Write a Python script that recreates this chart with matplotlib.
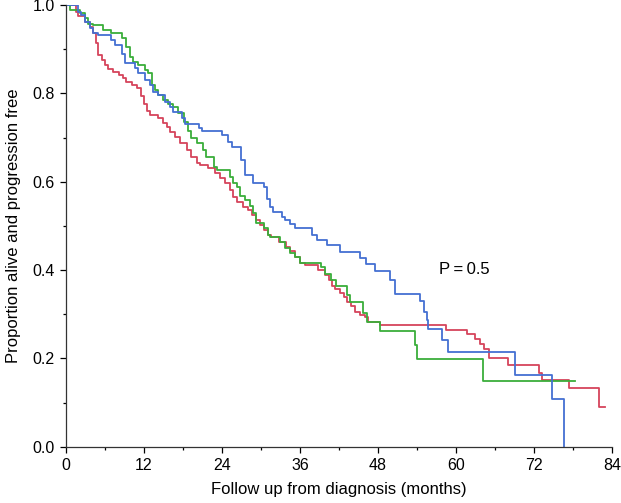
import matplotlib
matplotlib.use("Agg")
import matplotlib.pyplot as plt
from matplotlib.ticker import MultipleLocator

plt.rcParams['font.family'] = ['Liberation Sans', 'DejaVu Sans']

# step curves: time (months) of each drop and the value after it; last point = end of follow-up
red_t = [0, 1.5, 1.9, 2.9, 3.7, 4.2, 4.7, 5.0, 5.5, 6.0, 6.5, 7.3, 8.1, 8.8, 9.3, 10.1, 10.9,
         11.5, 12.0, 12.5, 13.0, 14.2, 15.0, 15.6, 16.0, 16.8, 17.5, 18.6, 19.3, 20.1, 20.6,
         21.9, 22.9, 23.7, 24.5, 25.2, 25.7, 26.3, 27.3, 28.0, 28.6, 29.3, 29.9, 30.4, 31.1,
         31.6, 32.7, 33.9, 34.5, 35.2, 36.0, 36.8, 38.8, 39.8, 40.4, 40.9, 41.4, 42.2, 42.7,
         43.2, 43.9, 44.5, 45.2, 46.0, 46.5, 48.3, 58.4, 61.6, 62.9, 63.7, 64.3, 65.0, 68.0,
         72.7, 73.2, 77.3, 81.9, 82.9]
red_s = [1.0, 0.985, 0.975, 0.962, 0.951, 0.936, 0.913, 0.887, 0.875, 0.864, 0.856, 0.849,
         0.841, 0.834, 0.826, 0.819, 0.811, 0.795, 0.775, 0.760, 0.752, 0.745, 0.733, 0.724,
         0.713, 0.702, 0.687, 0.672, 0.657, 0.642, 0.638, 0.630, 0.619, 0.608, 0.596, 0.581,
         0.566, 0.554, 0.542, 0.536, 0.524, 0.513, 0.502, 0.491, 0.479, 0.474, 0.464, 0.453,
         0.442, 0.430, 0.416, 0.411, 0.400, 0.389, 0.377, 0.364, 0.356, 0.348, 0.339, 0.328,
         0.318, 0.305, 0.299, 0.294, 0.283, 0.275, 0.265, 0.255, 0.243, 0.233, 0.221, 0.200,
         0.186, 0.167, 0.152, 0.132, 0.089, 0.089]

green_t = [0, 0.6, 2.2, 2.9, 3.4, 4.2, 5.7, 7.0, 8.6, 9.3, 9.8, 10.4, 11.1, 12.2, 12.7, 13.2,
           13.7, 14.2, 15.0, 15.7, 16.5, 17.3, 18.1, 18.8, 19.3, 20.1, 21.1, 21.6, 22.7, 23.2,
           25.2, 25.7, 26.3, 26.8, 27.5, 28.3, 28.8, 29.3, 30.4, 31.1, 31.4, 32.9, 33.7, 34.5,
           35.2, 36.0, 39.2, 39.8, 40.7, 41.6, 43.2, 43.7, 45.7, 46.3, 48.3, 53.7, 54.0, 64.2,
           78.3]
green_s = [1.0, 0.989, 0.981, 0.970, 0.958, 0.955, 0.943, 0.936, 0.925, 0.905, 0.883, 0.872,
           0.864, 0.853, 0.845, 0.820, 0.807, 0.796, 0.785, 0.777, 0.770, 0.755, 0.736, 0.715,
           0.698, 0.687, 0.672, 0.657, 0.634, 0.626, 0.611, 0.596, 0.589, 0.568, 0.558, 0.545,
           0.530, 0.507, 0.494, 0.480, 0.474, 0.464, 0.449, 0.438, 0.429, 0.417, 0.407, 0.392,
           0.378, 0.364, 0.344, 0.328, 0.302, 0.283, 0.262, 0.230, 0.198, 0.149, 0.149]

blue_t = [0, 1.9, 2.4, 2.9, 3.7, 4.2, 5.0, 7.0, 7.5, 8.6, 9.1, 10.6, 11.1, 12.2, 12.9, 13.4,
          14.2, 15.2, 16.0, 16.5, 17.8, 18.3, 20.4, 20.9, 24.0, 25.0, 25.5, 27.0, 27.5, 28.8,
          30.4, 30.9, 31.4, 31.9, 33.2, 33.7, 34.5, 35.2, 37.8, 38.6, 40.1, 42.2, 45.2, 46.2,
          47.6, 49.8, 50.6, 54.5, 55.0, 55.5, 55.7, 57.8, 58.7, 69.1, 74.7, 76.5]
blue_s = [1.0, 0.985, 0.977, 0.962, 0.947, 0.936, 0.932, 0.921, 0.909, 0.890, 0.869, 0.857,
          0.845, 0.830, 0.819, 0.804, 0.796, 0.781, 0.770, 0.758, 0.745, 0.730, 0.721, 0.715,
          0.705, 0.690, 0.678, 0.650, 0.615, 0.597, 0.589, 0.560, 0.542, 0.532, 0.521, 0.513,
          0.504, 0.494, 0.479, 0.469, 0.456, 0.441, 0.428, 0.413, 0.398, 0.377, 0.345, 0.330,
          0.305, 0.286, 0.266, 0.241, 0.214, 0.162, 0.109, 0.0]

x_ticks = [0, 12, 24, 36, 48, 60, 72, 84]
y_ticks = [0.0, 0.2, 0.4, 0.6, 0.8, 1.0]

fig = plt.figure(figsize=(6.21, 5.03), dpi=100)
ax = fig.add_axes([0.106, 0.112, 0.880, 0.878])

ax.step(red_t, red_s, where='post', color='#d6445c', lw=1.3)
ax.step(green_t, green_s, where='post', color='#3aae3a', lw=1.3)
ax.step(blue_t, blue_s, where='post', color='#4470d2', lw=1.3)

ax.text(57.3, 0.402, 'P\u2009=\u20090.5', fontsize=12, va='center', ha='left')

ax.set_xlim(0, 84)
ax.set_ylim(0, 1.0)
ax.set_xticks(x_ticks)
ax.set_yticks(y_ticks)
ax.set_yticklabels([f'{v:.1f}' for v in y_ticks])
ax.xaxis.set_minor_locator(MultipleLocator(6))
ax.yaxis.set_minor_locator(MultipleLocator(0.1))
ax.tick_params(which='major', direction='out', length=4.5, width=0.9, labelsize=11.5, pad=3.5)
ax.tick_params(which='minor', direction='out', length=2.5, width=0.9)
for side in ['top', 'right']:
    ax.spines[side].set_visible(False)
for side in ['left', 'bottom']:
    ax.spines[side].set_linewidth(0.9)
    ax.spines[side].set_color('#333333')

ax.set_xlabel('Follow up from diagnosis (months)', fontsize=12, labelpad=7)
ax.set_ylabel('Proportion alive and progression free', fontsize=12, labelpad=8)

fig.savefig('out.png', dpi=100)
